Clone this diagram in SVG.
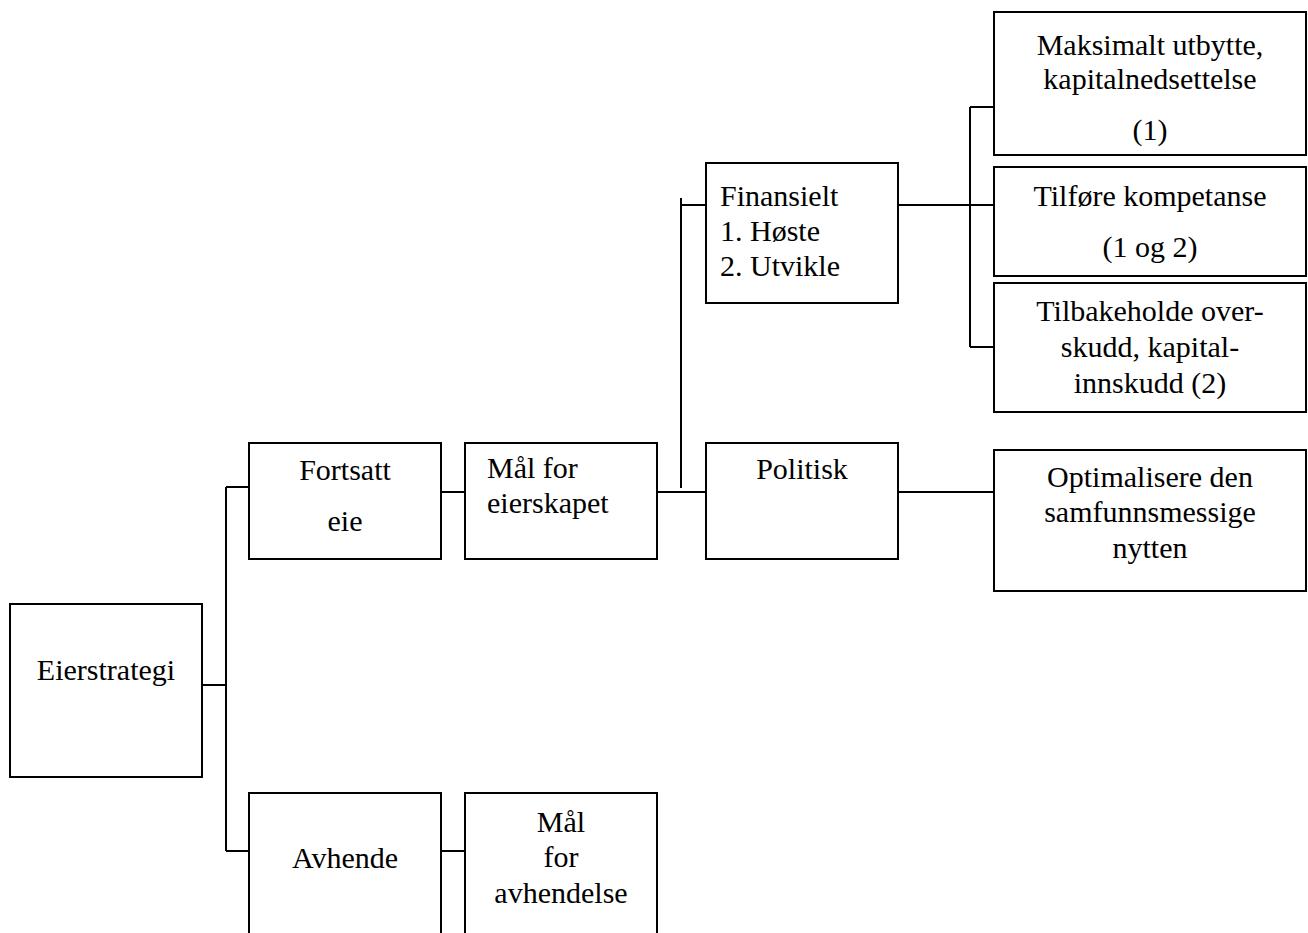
<svg xmlns="http://www.w3.org/2000/svg" width="1308" height="933" viewBox="0 0 1308 933">
<style>
.box{fill:#fff;stroke:#000;stroke-width:2}
.ln{fill:none;stroke:#000;stroke-width:2}
text{font-family:"Liberation Serif","DejaVu Serif",serif;font-size:30px;fill:#000}
.c{text-anchor:middle}
</style>
<rect width="1308" height="933" fill="#fff"/>
<g id="connectors">
<path class="ln" d="M202,685 H226 M226,487 V851 M226,487 H249 M226,851 H249"/>
<path class="ln" d="M441,492 H465"/>
<path class="ln" d="M441,851 H465"/>
<path class="ln" d="M657,492 H706 M681,198 V488 M681,205 H706"/>
<path class="ln" d="M898,205 H994 M970,107 V347 M970,107 H994 M970,347 H994"/>
<path class="ln" d="M898,492 H994"/>
</g>
<g id="eierstrategi"><rect class="box" x="10" y="604" width="192" height="173"/><text class="c" x="106" y="680">Eierstrategi</text></g>
<g id="fortsatt"><rect class="box" x="249" y="443" width="192" height="116"/><text class="c" x="345" y="480">Fortsatt</text><text class="c" x="345" y="531">eie</text></g>
<g id="maal-eierskap"><rect class="box" x="465" y="443" width="192" height="116"/><text x="487" y="478">Mål for</text><text x="487" y="513">eierskapet</text></g>
<g id="finansielt"><rect class="box" x="706" y="163" width="192" height="140"/><text x="720" y="206">Finansielt</text><text x="720" y="241">1. Høste</text><text x="720" y="276">2. Utvikle</text></g>
<g id="politisk"><rect class="box" x="706" y="443" width="192" height="116"/><text class="c" x="802" y="479">Politisk</text></g>
<g id="maksimalt"><rect class="box" x="994" y="12" width="312" height="143"/><text class="c" x="1150" y="55">Maksimalt utbytte,</text><text class="c" x="1150" y="89">kapitalnedsettelse</text><text class="c" x="1150" y="140">(1)</text></g>
<g id="tilfore"><rect class="box" x="994" y="167" width="312" height="109"/><text class="c" x="1150" y="206">Tilføre kompetanse</text><text class="c" x="1150" y="257">(1 og 2)</text></g>
<g id="tilbakeholde"><rect class="box" x="994" y="283" width="312" height="129"/><text class="c" x="1150" y="321">Tilbakeholde over-</text><text class="c" x="1150" y="357">skudd, kapital-</text><text class="c" x="1150" y="393">innskudd (2)</text></g>
<g id="optimalisere"><rect class="box" x="994" y="450" width="312" height="141"/><text class="c" x="1150" y="487">Optimalisere den</text><text class="c" x="1150" y="522">samfunnsmessige</text><text class="c" x="1150" y="558">nytten</text></g>
<g id="avhende"><rect class="box" x="249" y="793" width="192" height="150"/><text class="c" x="345" y="868">Avhende</text></g>
<g id="maal-avhendelse"><rect class="box" x="465" y="793" width="192" height="150"/><text class="c" x="561" y="832">Mål</text><text class="c" x="561" y="867">for</text><text class="c" x="561" y="903">avhendelse</text></g>
</svg>
